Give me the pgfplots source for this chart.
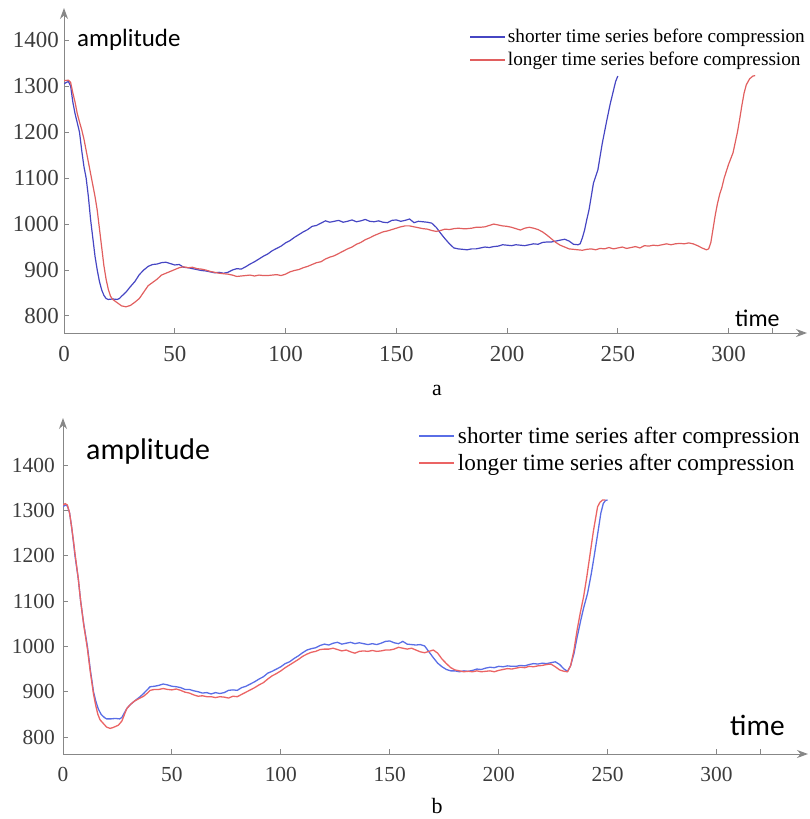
\documentclass[border=0pt]{standalone}
\usepackage{fontspec}
\setmainfont{Liberation Serif}
\newfontfamily\calfont{Carlito}
\usepackage{pgfplots}
\pgfplotsset{compat=1.18}
\usetikzlibrary{arrows.meta}

\definecolor{axgray}{RGB}{135,135,135}
\definecolor{lblgray}{RGB}{60,60,60}
\definecolor{blueA}{RGB}{70,70,195}
\definecolor{redA}{RGB}{225,95,95}
\definecolor{blueB}{RGB}{90,110,230}
\definecolor{redB}{RGB}{235,100,100}

\pgfplotsset{
  panel/.style={
    scale only axis,
    axis lines=left,
    axis line style={draw=axgray, line width=1bp},
    x axis line style={-{Stealth[length=11bp,width=8bp]}},
    y axis line style={-{Stealth[length=11bp,width=8bp]}},
    tick align=inside,
    major tick length=5bp,
    tick style={draw=axgray, line width=1bp},
    xtick={0,50,100,150,200,250,300,320},
    xticklabels={0,50,100,150,200,250,300,{}},
    ytick={800,900,1000,1100,1200,1300,1400},
    /pgf/number format/1000 sep={},
    /pgf/number format/assume math mode=true,
    ticklabel style={text=lblgray},
    xticklabel style={inner sep=0pt, yshift=-13bp},
    legend cell align=left,
    legend image code/.code={\draw[#1, line width=1.8bp] (0bp,0bp) -- (35bp,0bp);},
  }
}

\begin{document}
\begin{tikzpicture}
\path (0bp,0bp) rectangle (810bp,-819bp);

% ---------------- panel a ----------------
\begin{axis}[panel,
  at={(64bp,-333bp)}, anchor=south west,
  width=743bp, height=325bp,
  xmin=0, xmax=335.4, ymin=763, ymax=1470,
  ticklabel style={font=\fontsize{23}{25}\selectfont},
  yticklabel style={inner sep=0pt, xshift=-5bp},
  legend style={draw=none, fill=none, at={(0.545,0.9415)}, anchor=north west,
    font=\fontsize{19.3}{21}\selectfont, row sep=4bp, inner sep=0pt,
    nodes={inner sep=2bp}},
]
\addplot[color=blueA, line width=1.2bp] table {
0 1305
1 1308
2 1310
3 1300
4 1265
5 1240
6 1220
7 1200
8 1160
9 1125
10 1100
11 1060
12 1010
13 970
14 930
15 900
16 875
17 857
18 845
19 838
20 836
22 837
24 836
25 838
26 843
28 852
30 864
32 875
34 890
36 900
38 908
40 912
42 913
44 916
46 917
48 914
50 911
52 912
54 906
56 905
58 903
60 901
62 899
64 898
66 896
68 894
70 895
72 893
74 895
76 900
78 903
80 902
82 907
84 913
86 918
88 924
90 930
92 935
94 942
96 947
98 952
100 959
102 964
104 971
106 977
108 983
110 988
112 995
114 997
116 1002
118 1007
120 1004
122 1006
124 1008
126 1004
128 1006
130 1009
132 1005
134 1007
136 1010
138 1006
140 1005
142 1007
144 1004
146 1003
148 1008
150 1009
152 1006
154 1008
156 1011
158 1003
160 1006
162 1005
164 1004
166 1002
168 993
170 980
172 968
174 957
176 948
178 946
180 945
182 944
184 946
186 946
188 948
190 950
192 949
194 951
196 952
198 955
200 954
202 953
204 955
206 954
208 953
210 955
212 957
214 956
216 960
218 961
220 961
222 963
224 965
226 967
228 963
230 956
232 955
233 957
234 970
235 987
236 1010
237 1031
238 1060
239 1089
241 1118
243 1176
245 1225
246.5 1260
248 1290
249 1310
250 1322
};
\addlegendentry{shorter time series before compression}

\addplot[color=redA, line width=1.2bp] table {
0 1312
2 1313
3 1308
4 1285
5 1265
6 1240
7 1222
8 1205
9 1185
10 1160
11 1135
12 1110
13 1085
14 1060
15 1030
16 990
17 950
18 910
19 880
20 858
21 843
22 836
24 829
26 822
28 820
30 823
32 830
34 838
36 852
38 866
40 873
42 880
44 889
46 893
48 897
50 901
52 905
54 907
56 905
58 906
60 903
62 902
64 900
66 897
68 895
70 893
72 892
74 891
76 889
78 886
80 887
82 888
84 889
86 887
88 889
90 888
92 888
94 889
96 890
98 888
100 891
102 896
104 899
106 901
108 905
110 908
112 912
114 916
116 918
118 924
120 928
122 931
124 936
126 941
128 946
130 950
132 956
134 960
136 966
138 970
140 975
142 979
144 983
146 985
148 988
150 991
152 994
154 996
156 996
158 994
160 992
162 990
164 989
166 986
168 984
170 986
172 989
174 988
176 990
178 991
180 990
182 990
184 991
186 993
188 993
190 994
192 997
194 1000
196 998
198 996
200 995
202 993
204 990
206 987
208 991
210 993
212 991
214 988
216 983
218 976
220 968
222 960
224 954
226 950
228 946
230 945
232 944
234 943
236 945
238 946
240 944
242 947
244 946
246 949
248 946
250 948
252 950
254 947
256 949
258 951
260 948
262 953
264 952
266 954
268 953
270 955
272 957
274 955
276 957
278 958
280 957
282 959
284 957
286 953
288 948
290 944
291 946
292 960
293 990
294 1020
295 1045
296 1065
297 1080
298 1100
300 1130
302 1155
304 1200
305 1228
306 1258
307 1285
308 1303
309.5 1316
311 1322
312 1323
};
\addlegendentry{longer time series before compression}
\end{axis}

% ---------------- panel b ----------------
\begin{axis}[panel,
  at={(63bp,-754bp)}, anchor=south west,
  width=745bp, height=336bp,
  xmin=0, xmax=342, ymin=762.5, ymax=1504,
  ticklabel style={font=\fontsize{21.5}{23}\selectfont},
  yticklabel style={inner sep=0pt, xshift=-8bp},
  legend style={draw=none, fill=none, at={(0.4765,0.982)}, anchor=north west,
    font=\fontsize{23.3}{25}\selectfont, row sep=3bp, inner sep=0pt,
    nodes={inner sep=3bp}},
]
\addplot[color=blueB, line width=1.3bp] table {
0 1308
1 1312
2 1310
3 1295
4 1262
5 1222
5.5 1200
7 1150
8.1 1100
9.5 1050
11.2 1000
12.5 950
14 900
15 880
16.2 862
17.5 850
19 843
20 840
22 840
24 841
26 840
27 843
29.3 863
31 872
33 880
35.4 889
37 896
39 906
40 911
42 912
44 914
46 917
48 915
50 912
52 911
54 909
56 905
58 905
60 902
62 900
64 897
66 898
68 895
70 898
72 896
74 898
76 903
78 904
80 903
82 909
84 912
86 917
88 922
90 928
92 933
94 941
96 945
98 950
100 955
102 962
104 966
106 973
108 979
110 986
112 992
114 995
116 997
118 1002
120 1005
122 1003
124 1007
126 1009
128 1005
130 1007
132 1009
134 1006
136 1008
138 1006
140 1004
142 1006
144 1004
146 1007
148 1011
150 1012
152 1008
154 1006
156 1011
158 1005
160 1004
162 1003
164 1004
166 1001
168 988
170 975
172 963
174 955
176 949
178 946
180 946
182 944
184 946
186 945
188 947
190 950
192 949
194 952
196 954
198 953
200 956
202 955
204 957
206 956
208 956
210 958
212 957
214 960
216 962
218 961
220 963
222 962
224 964
226 966
228 960
230 950
231.6 945
233 957
234.6 985
236 1020
237.7 1058
239 1085
240.8 1117
242.5 1160
243.8 1198
245.5 1250
246.9 1294
248 1315
249 1322
250 1323
};
\addlegendentry{shorter time series after compression}

\addplot[color=redB, line width=1.3bp] table {
0 1312
1 1315
2 1312
3 1295
4 1262
5 1225
5.5 1205
7 1150
8.1 1100
9.5 1048
11.2 995
12.5 945
14 895
15 870
16 850
17 838
18.5 830
20 822
21.6 819
23 821
25.4 826
27 835
29.3 863
31 872
33 880
35.4 886
37 890
39 898
40 903
42 905
44 905
46 907
48 905
50 904
52 906
54 903
56 899
58 897
60 893
62 890
64 891
66 889
68 889
70 887
72 889
74 888
76 886
78 890
80 889
82 894
84 899
86 904
88 909
90 915
92 920
94 928
96 935
98 940
100 946
102 953
104 959
106 965
108 971
110 978
112 983
114 987
116 989
118 993
120 994
122 994
124 996
126 993
128 990
130 992
132 988
134 985
136 989
138 990
140 989
142 991
144 989
146 990
148 992
150 992
152 994
154 998
156 996
158 994
160 996
162 992
164 988
166 986
168 989
170 992
172 985
174 972
176 962
178 953
180 948
182 946
184 944
186 945
188 944
190 946
192 944
194 945
196 946
198 944
200 947
202 949
204 951
206 950
208 952
210 954
212 953
214 956
216 955
218 957
220 958
222 960
224 961
226 955
228 948
230 945
231.6 944
233 957
234.5 990
236 1036
237.5 1075
239 1110
240.5 1155
242 1205
243.5 1255
245.4 1308
246.5 1318
247.7 1323
249 1323
};
\addlegendentry{longer time series after compression}
\end{axis}

% axis titles and panel captions
\node[anchor=west, inner sep=0pt, font=\calfont\fontsize{25}{27}\selectfont] at (77bp,-40bp) {amplitude};
\node[anchor=west, inner sep=0pt, font=\calfont\fontsize{24}{26}\selectfont] at (735bp,-318bp) {time};
\node[anchor=west, inner sep=0pt, font=\calfont\fontsize{30}{32}\selectfont] at (86bp,-452bp) {amplitude};
\node[anchor=west, inner sep=0pt, font=\calfont\fontsize{29.5}{31}\selectfont] at (730bp,-725bp) {time};
\node[font=\fontsize{22}{24}\selectfont] at (437bp,-390bp) {a};
\node[font=\fontsize{22}{24}\selectfont] at (437bp,-806bp) {b};
\end{tikzpicture}
\end{document}
